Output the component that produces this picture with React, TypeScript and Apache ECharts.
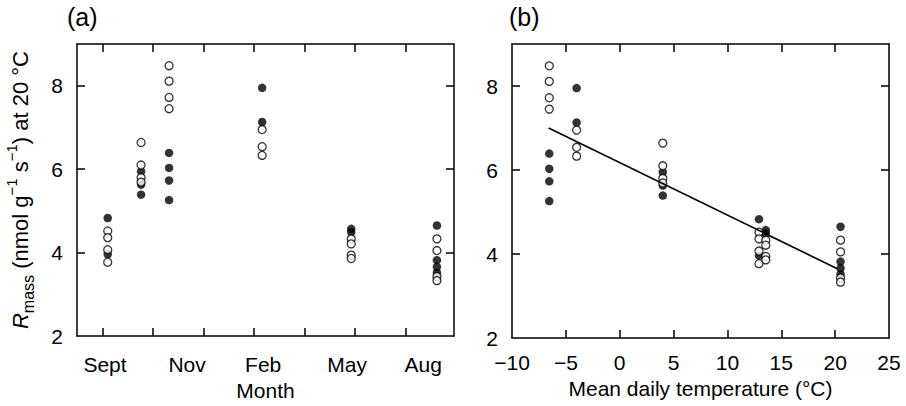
import React, { useEffect, useRef } from "react";
import * as echarts from "echarts";

// Sampling occasions (panel a position in days along the axis, panel b mean daily temperature)
const months = ["Sept", "Oct", "Nov", "Feb", "May", "Aug"];
const dayPos = [30.4, 63.4, 91.1, 183.2, 271.3, 356.1];
const temps = [12.93, 4.0, -6.54, -4.0, 13.56, 20.5];

// R_mass values (nmol g-1 s-1 at 20 °C)
const filledVals = [
  [4.83, 3.96],
  [5.95, 5.63, 5.39],
  [6.39, 6.03, 5.73, 5.26],
  [7.95, 7.13],
  [4.57, 4.49],
  [4.65, 3.82, 3.66, 3.52],
];
const openVals = [
  [4.52, 4.36, 4.07, 3.77],
  [6.64, 6.1, 5.8, 5.69],
  [8.48, 8.11, 7.72, 7.45],
  [6.95, 6.54, 6.33],
  [4.33, 4.21, 3.94, 3.86],
  [4.33, 4.05, 3.43, 3.33],
];

// Regression line in panel b
const fitTemp = [-6.6, 20.2];
const fitVal = [7.0, 3.65];

// Axis ticks / labels
const monthTicks = [25, 75, 125, 175, 225, 275, 325];
const monthLabelPos = [27.7, 108.9, 184.2, 267.3, 342.6];
const monthLabelNames = ["Sept", "Nov", "Feb", "May", "Aug"];
const yLabels = [2, 4, 6, 8];
const yTicks = [4, 6, 8];
const tempTicks = [-5, 0, 5, 10, 15, 20];

const FONT = "Liberation Sans, Arial, Helvetica, sans-serif";

export default function App() {
  const ref = useRef<HTMLDivElement>(null);

  useEffect(() => {
    if (!ref.current) return;
    const chart = echarts.init(ref.current, null, { renderer: "svg" });

    const line = { show: true, onZero: false, lineStyle: { color: "#000", width: 1.5 } };
    const tick = (vals: number[]) => ({
      show: true,
      inside: true,
      length: 8,
      customValues: vals,
      lineStyle: { color: "#000", width: 1.5 },
    });
    const label = { color: "#000", fontSize: 21, fontFamily: FONT };

    const ptsA = (vals: number[][]) =>
      vals.flatMap((g, i) => g.map((v) => [dayPos[i], v]));
    const ptsB = (vals: number[][]) =>
      vals.flatMap((g, i) => g.map((v) => [temps[i], v]));

    const filledStyle = { color: "#000" };
    const openStyle = { color: "#fff", borderColor: "#000", borderWidth: 1.3 };

    chart.setOption({
      animation: false,
      backgroundColor: "#fff",
      textStyle: { fontFamily: FONT },
      graphic: [
        { type: "text", left: 67, top: 4, style: { text: "(a)", fontSize: 25, fontFamily: FONT, fill: "#000" } },
        { type: "text", left: 509, top: 4, style: { text: "(b)", fontSize: 25, fontFamily: FONT, fill: "#000" } },
      ],
      grid: [
        { left: 77, right: 452, top: 44, bottom: 68 },
        { left: 512, right: 17, top: 44, bottom: 68 },
      ],
      xAxis: [
        {
          gridIndex: 0,
          type: "value",
          min: 0,
          max: 373,
          position: "bottom",
          axisLine: line,
          axisTick: tick(monthTicks),
          splitLine: { show: false },
          axisLabel: {
            ...label,
            margin: 18,
            customValues: monthLabelPos,
            formatter: (v: number) => {
              let best = 0;
              monthLabelPos.forEach((p, i) => {
                if (Math.abs(p - v) < Math.abs(monthLabelPos[best] - v)) best = i;
              });
              return monthLabelNames[best];
            },
          },
          name: "Month",
          nameLocation: "middle",
          nameGap: 43,
          nameTextStyle: { ...label },
        },
        {
          gridIndex: 0,
          type: "value",
          min: 0,
          max: 373,
          position: "top",
          axisLine: line,
          axisTick: tick(monthTicks),
          axisLabel: { show: false },
          splitLine: { show: false },
        },
        {
          gridIndex: 1,
          type: "value",
          min: -10,
          max: 25,
          interval: 5,
          position: "bottom",
          axisLine: line,
          axisTick: tick(tempTicks),
          splitLine: { show: false },
          axisLabel: {
            ...label,
            margin: 14,
            formatter: (v: number) => String(v).replace("-", "\u2212"),
          },
          name: "Mean daily temperature (°C)",
          nameLocation: "middle",
          nameGap: 29,
          nameTextStyle: { ...label },
        },
        {
          gridIndex: 1,
          type: "value",
          min: -10,
          max: 25,
          interval: 5,
          position: "top",
          axisLine: line,
          axisTick: tick(tempTicks),
          axisLabel: { show: false },
          splitLine: { show: false },
        },
      ],
      yAxis: [
        {
          gridIndex: 0,
          type: "value",
          min: 2,
          max: 9,
          position: "left",
          axisLine: line,
          axisTick: tick(yTicks),
          splitLine: { show: false },
          axisLabel: { ...label, margin: 14, customValues: yLabels },
          name: "{i|R}{sub|mass} (nmol g{sup|\u22121} s{sup|\u22121}) at 20 °C",
          nameLocation: "middle",
          nameRotate: 90,
          nameGap: 41,
          nameTextStyle: {
            ...label,
            fontSize: 22,
            lineHeight: 32,
            rich: {
              i: { fontStyle: "italic", fontSize: 22, fontFamily: FONT, color: "#000", lineHeight: 32 },
              sub: { fontSize: 16, fontFamily: FONT, color: "#000", lineHeight: 16, verticalAlign: "bottom" },
              sup: { fontSize: 15, fontFamily: FONT, color: "#000", lineHeight: 15, verticalAlign: "top" },
            },
          },
        },
        {
          gridIndex: 0,
          type: "value",
          min: 2,
          max: 9,
          position: "right",
          axisLine: line,
          axisTick: tick(yTicks),
          axisLabel: { show: false },
          splitLine: { show: false },
        },
        {
          gridIndex: 1,
          type: "value",
          min: 2,
          max: 9,
          position: "left",
          axisLine: line,
          axisTick: tick(yTicks),
          splitLine: { show: false },
          axisLabel: { ...label, margin: 14, customValues: yLabels },
        },
        {
          gridIndex: 1,
          type: "value",
          min: 2,
          max: 9,
          position: "right",
          axisLine: line,
          axisTick: tick(yTicks),
          axisLabel: { show: false },
          splitLine: { show: false },
        },
      ],
      series: [
        {
          type: "scatter",
          xAxisIndex: 0,
          yAxisIndex: 0,
          data: ptsA(filledVals),
          symbolSize: 8.5,
          itemStyle: filledStyle,
        },
        {
          type: "scatter",
          xAxisIndex: 0,
          yAxisIndex: 0,
          data: ptsA(openVals),
          symbolSize: 8,
          itemStyle: openStyle,
        },
        {
          type: "scatter",
          xAxisIndex: 2,
          yAxisIndex: 2,
          data: ptsB(filledVals),
          symbolSize: 8.5,
          itemStyle: filledStyle,
        },
        {
          type: "scatter",
          xAxisIndex: 2,
          yAxisIndex: 2,
          data: ptsB(openVals),
          symbolSize: 8,
          itemStyle: openStyle,
        },
        {
          type: "line",
          xAxisIndex: 2,
          yAxisIndex: 2,
          data: fitTemp.map((t, i) => [t, fitVal[i]]),
          symbol: "none",
          z: 5,
          lineStyle: { color: "#000", width: 1.6 },
        },
      ],
    });

    return () => chart.dispose();
  }, []);

  return (
    <div
      ref={ref}
      style={{ position: "fixed", left: 0, top: 0, width: 906, height: 406, background: "#fff" }}
    />
  );
}
